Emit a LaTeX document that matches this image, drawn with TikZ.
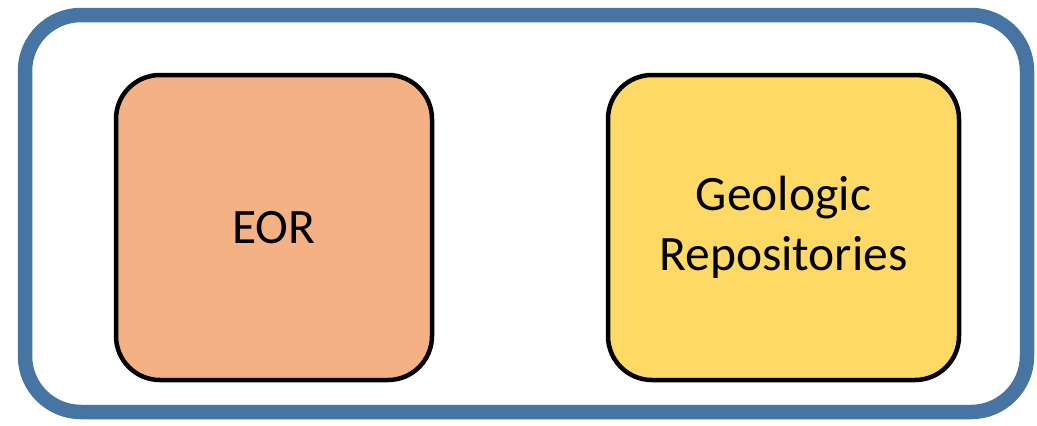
\documentclass[tikz,border=0pt]{standalone}
\usepackage{fontspec}
\setmainfont{Carlito}
\usetikzlibrary{positioning}
\definecolor{framecol}{HTML}{4674A3}
\definecolor{eorcol}{HTML}{F4B183}
\definecolor{repocol}{HTML}{FED966}

\begin{document}
\begin{tikzpicture}[x=1pt,y=-1pt,
    box/.style={rectangle,draw=black,line width=4.5pt,rounded corners=44pt,
      minimum width=316pt,minimum height=305pt,align=center,
      font=\fontsize{49.5}{60}\selectfont}]
    \useasboundingbox (0,0) rectangle (1037,426);

    \node at (526,213.5) [rectangle,draw=framecol,line width=14.5pt,rounded corners=56pt,
      minimum width=1002pt,minimum height=397pt] (frame) {};

    \node at (274,227.5) [box,fill=eorcol] (eor) {EOR};
    \node at (783.5,227.5) [box,fill=repocol,minimum width=351pt] (repos) {Geologic\\Repositories};
\end{tikzpicture}
\end{document}
